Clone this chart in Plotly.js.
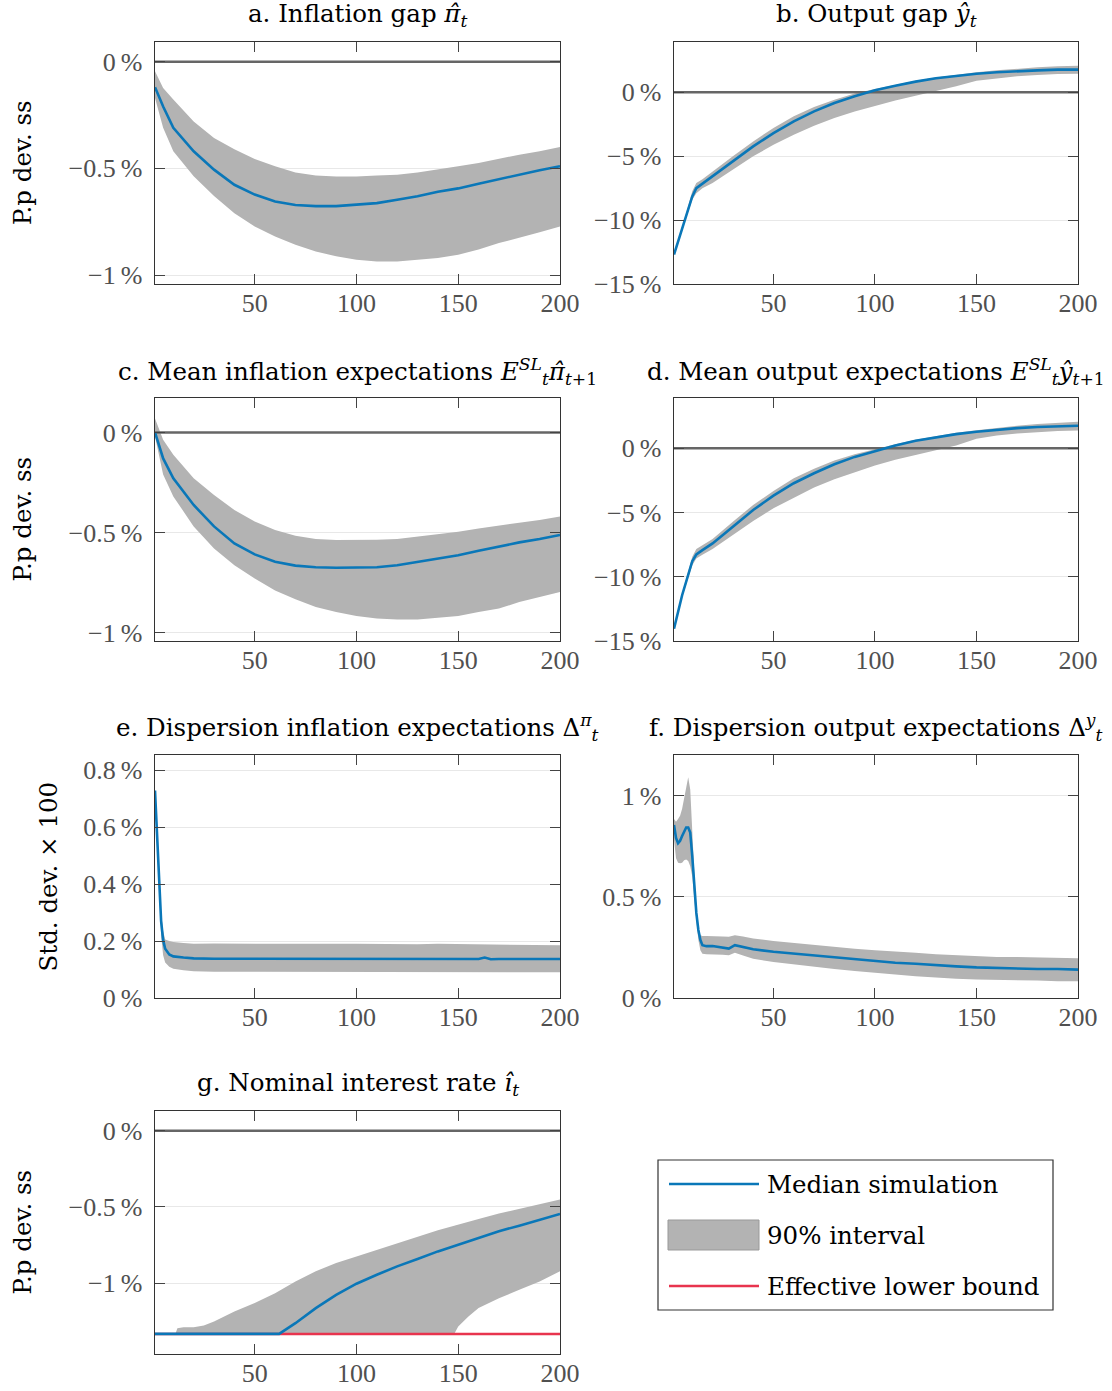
<!DOCTYPE html>
<html>
<head>
<meta charset="utf-8">
<script src="https://cdn.plot.ly/plotly-3.0.1.min.js"></script>
<style>html,body{margin:0;padding:0;background:#fff}#chart{width:1112px;height:1391px}</style>
</head>
<body>
<div id="chart"></div>
<script>
// ---------- DATA ----------
const xEnds = [1, 200];
const zeroLine = [0, 0];
const elbValue = -1.333;
const xTickVals = [50, 100, 150, 200];
const xTickText = ['50', '100', '150', '200'];

// a. Inflation gap
const tA = [1,5,10,20,30,40,50,60,70,80,90,100,110,120,130,140,150,160,170,180,190,200];
const medA = [-0.12,-0.21,-0.31,-0.42,-0.506,-0.577,-0.623,-0.655,-0.672,-0.677,-0.677,-0.67,-0.663,-0.647,-0.631,-0.61,-0.594,-0.572,-0.55,-0.528,-0.509,-0.49];
const hiA = [-0.045,-0.123,-0.178,-0.28,-0.358,-0.41,-0.456,-0.49,-0.519,-0.534,-0.538,-0.538,-0.534,-0.53,-0.519,-0.503,-0.49,-0.475,-0.455,-0.436,-0.42,-0.40];
const loA = [-0.17,-0.31,-0.42,-0.537,-0.63,-0.71,-0.772,-0.82,-0.858,-0.89,-0.912,-0.928,-0.936,-0.936,-0.928,-0.92,-0.905,-0.88,-0.85,-0.826,-0.80,-0.772];

// b. Output gap
const tB = [1,5,10,12,15,20,30,40,50,60,70,80,90,100,110,120,130,140,150,160,170,180,190,200];
const medB = [-12.7,-10.7,-8.15,-7.5,-7.15,-6.58,-5.4,-4.23,-3.19,-2.27,-1.49,-0.84,-0.31,0.16,0.52,0.84,1.1,1.3,1.46,1.57,1.67,1.72,1.78,1.78];
const hiB = [-12.7,-10.6,-7.75,-7.1,-6.8,-6.19,-5.01,-3.84,-2.79,-1.88,-1.15,-0.57,-0.1,0.26,0.6,0.91,1.17,1.38,1.57,1.72,1.85,1.96,2.04,2.09];
const loB = [-12.7,-10.8,-8.4,-7.9,-7.5,-7.1,-6.06,-5.01,-4.1,-3.32,-2.61,-2.01,-1.49,-1.04,-0.63,-0.26,0.08,0.47,0.91,1.1,1.25,1.36,1.44,1.46];

// c. Mean inflation expectations
const tC = [1,5,10,20,30,40,50,60,70,80,90,100,110,120,130,140,150,160,170,180,190,200];
const medC = [0,-0.13,-0.23,-0.363,-0.47,-0.555,-0.61,-0.647,-0.666,-0.674,-0.677,-0.677,-0.674,-0.664,-0.647,-0.63,-0.614,-0.592,-0.57,-0.55,-0.533,-0.513];
const hiC = [0.069,-0.037,-0.112,-0.229,-0.313,-0.388,-0.446,-0.488,-0.517,-0.533,-0.538,-0.538,-0.537,-0.533,-0.522,-0.508,-0.497,-0.48,-0.467,-0.452,-0.438,-0.421];
const loC = [-0.02,-0.21,-0.32,-0.47,-0.58,-0.664,-0.73,-0.79,-0.834,-0.873,-0.898,-0.918,-0.93,-0.935,-0.935,-0.928,-0.918,-0.898,-0.881,-0.848,-0.823,-0.798];

// d. Mean output expectations
const tD = [1,5,10,12,15,20,30,40,50,60,70,80,90,100,110,120,130,140,150,160,170,180,190,200];
const medD = [-14.04,-11.44,-8.79,-8.27,-7.93,-7.41,-6.11,-4.81,-3.69,-2.73,-1.95,-1.25,-0.68,-0.21,0.21,0.57,0.86,1.09,1.27,1.43,1.56,1.64,1.69,1.74];
const hiD = [-14.04,-11.3,-8.45,-7.85,-7.55,-7.07,-5.72,-4.42,-3.33,-2.34,-1.61,-0.96,-0.47,-0.05,0.31,0.65,0.94,1.2,1.4,1.59,1.74,1.87,1.98,2.05];
const loD = [-14.04,-11.6,-9.1,-8.58,-8.3,-7.85,-6.76,-5.67,-4.68,-3.85,-3.07,-2.42,-1.87,-1.35,-0.91,-0.52,-0.13,0.21,0.73,0.99,1.14,1.25,1.33,1.38];

// e. Dispersion inflation expectations
const tE = [1,2,3,4,5,6,8,10,15,20,30,40,50,60,70,80,90,100,110,120,130,140,150,160,163,166,170,180,190,200];
const medE = [0.728,0.58,0.39,0.27,0.203,0.173,0.153,0.146,0.142,0.139,0.138,0.138,0.137,0.137,0.137,0.137,0.137,0.138,0.137,0.137,0.137,0.137,0.137,0.137,0.142,0.136,0.137,0.137,0.137,0.137];
const hiE = [0.73,0.60,0.42,0.30,0.235,0.205,0.20,0.197,0.193,0.19,0.191,0.19,0.189,0.19,0.19,0.189,0.19,0.19,0.189,0.19,0.189,0.19,0.189,0.19,0.19,0.188,0.188,0.187,0.186,0.185];
const loE = [0.72,0.55,0.35,0.22,0.15,0.125,0.11,0.103,0.097,0.094,0.092,0.092,0.091,0.091,0.091,0.091,0.09,0.091,0.091,0.09,0.091,0.091,0.09,0.091,0.09,0.09,0.09,0.091,0.09,0.09];

// f. Dispersion output expectations
const tF = [1,2,3,4,5,6,7,8,9,10,11,12,13,14,15,17,20,25,28,31,35,40,50,60,70,80,90,100,110,120,130,140,150,160,170,180,190,200];
const medF = [0.854,0.79,0.764,0.776,0.8,0.826,0.842,0.842,0.817,0.70,0.55,0.42,0.336,0.286,0.261,0.256,0.257,0.249,0.244,0.261,0.252,0.241,0.228,0.219,0.208,0.198,0.189,0.181,0.174,0.169,0.161,0.156,0.151,0.148,0.146,0.143,0.143,0.14];
const hiF = [0.884,0.87,0.884,0.90,0.934,0.99,1.05,1.09,1.03,0.78,0.62,0.45,0.35,0.31,0.306,0.306,0.306,0.304,0.302,0.31,0.304,0.294,0.282,0.272,0.26,0.252,0.243,0.236,0.228,0.223,0.216,0.211,0.206,0.203,0.203,0.20,0.20,0.196];
const loF = [0.784,0.69,0.668,0.665,0.668,0.68,0.684,0.676,0.651,0.60,0.485,0.369,0.286,0.236,0.219,0.216,0.216,0.213,0.211,0.223,0.21,0.194,0.178,0.166,0.153,0.143,0.133,0.123,0.116,0.108,0.10,0.095,0.091,0.09,0.086,0.086,0.083,0.083];

// g. Nominal interest rate
const tG = [1,62,70,80,90,100,110,120,130,140,150,160,170,180,190,200];
const medG = [-1.333,-1.333,-1.263,-1.164,-1.077,-1.004,-0.945,-0.89,-0.842,-0.792,-0.748,-0.704,-0.66,-0.623,-0.583,-0.546];
const tGband = [11,12,15,20,25,30,40,50,60,70,80,90,100,110,120,130,140,148,150,155,160,170,180,190,200];
const hiG = [-1.333,-1.296,-1.29,-1.29,-1.278,-1.252,-1.186,-1.13,-1.066,-0.989,-0.923,-0.868,-0.825,-0.781,-0.737,-0.693,-0.654,-0.624,-0.616,-0.598,-0.579,-0.544,-0.513,-0.485,-0.452];
const loG = [-1.333,-1.333,-1.333,-1.333,-1.333,-1.333,-1.333,-1.333,-1.333,-1.333,-1.333,-1.333,-1.333,-1.333,-1.333,-1.333,-1.333,-1.333,-1.285,-1.219,-1.164,-1.1,-1.044,-0.989,-0.923];

const titles = [
  'a. Inflation gap <i>π̂</i><sub><i>t</i></sub>',
  'b. Output gap <i>ŷ</i><sub><i>t</i></sub>',
  'c. Mean inflation expectations <i>E</i><sup><i>SL</i></sup><sub><i>t</i></sub><i>π̂</i><sub><i>t</i>+1</sub>',
  'd. Mean output expectations <i>E</i><sup><i>SL</i></sup><sub><i>t</i></sub><i>ŷ</i><sub><i>t</i>+1</sub>',
  'e. Dispersion inflation expectations Δ<sup><i>π</i></sup><sub><i>t</i></sub>',
  'f. Dispersion output expectations Δ<sup><i>y</i></sup><sub><i>t</i></sub>',
  'g. Nominal interest rate <i>î</i><sub><i>t</i></sub>'
];
const legendLabels = ['Median simulation', '90% interval', 'Effective lower bound'];

// ---------- STYLE / LAYOUT ----------
const W = 1112, H = 1391;
const BLUE = '#0a77b8', GRAY = '#b3b3b3', RED = '#e8344e', ZERO = '#666666';
const fx = p => p / W;
const fy = p => 1 - p / H;

const panels = [
  {t: tA, med: medA, hi: hiA, lo: loA, tb: tA, zero: true, box: [155,560,42,284], yr: [-1.042,0.092], yv: [0,-0.5,-1], yt: ['0\u2009%','−0.5\u2009%','−1\u2009%']},
  {t: tB, med: medB, hi: hiB, lo: loB, tb: tB, zero: true, box: [674,1078,42,284], yr: [-15,3.94], yv: [0,-5,-10,-15], yt: ['0\u2009%','−5\u2009%','−10\u2009%','−15\u2009%']},
  {t: tC, med: medC, hi: hiC, lo: loC, tb: tC, zero: true, box: [155,560,398,641], yr: [-1.043,0.172], yv: [0,-0.5,-1], yt: ['0\u2009%','−0.5\u2009%','−1\u2009%']},
  {t: tD, med: medD, hi: hiD, lo: loD, tb: tD, zero: true, box: [674,1078,398,641], yr: [-15,3.9], yv: [0,-5,-10,-15], yt: ['0\u2009%','−5\u2009%','−10\u2009%','−15\u2009%']},
  {t: tE, med: medE, hi: hiE, lo: loE, tb: tE, zero: false, box: [155,560,755,998], yr: [0,0.853], yv: [0,0.2,0.4,0.6,0.8], yt: ['0\u2009%','0.2\u2009%','0.4\u2009%','0.6\u2009%','0.8\u2009%']},
  {t: tF, med: medF, hi: hiF, lo: loF, tb: tF, zero: false, box: [674,1078,755,998], yr: [0,1.2], yv: [0,0.5,1], yt: ['0\u2009%','0.5\u2009%','1\u2009%']},
  {t: tG, med: medG, hi: hiG, lo: loG, tb: tGband, zero: true, elb: true, box: [155,560,1111,1354], yr: [-1.465,0.129], yv: [0,-0.5,-1], yt: ['0\u2009%','−0.5\u2009%','−1\u2009%']}
];

const tickFont = {family: 'Liberation Serif, serif', size: 26, color: '#505050'};
const textFont = {family: 'DejaVu Serif, serif', size: 24.5, color: '#000'};

const traces = [];
const layout = {
  width: W, height: H,
  margin: {l: 0, r: 0, t: 0, b: 0},
  paper_bgcolor: '#fff', plot_bgcolor: '#fff',
  showlegend: false,
  annotations: [], shapes: []
};

panels.forEach((p, i) => {
  const n = i + 1;
  const xa = n === 1 ? 'x' : 'x' + n;
  const ya = n === 1 ? 'y' : 'y' + n;
  const xkey = n === 1 ? 'xaxis' : 'xaxis' + n;
  const ykey = n === 1 ? 'yaxis' : 'yaxis' + n;
  const [l, r, t, b] = p.box;

  traces.push({x: p.tb, y: p.lo, xaxis: xa, yaxis: ya, mode: 'lines', line: {width: 0, color: 'rgba(0,0,0,0)'}, hoverinfo: 'skip'});
  traces.push({x: p.tb, y: p.hi, xaxis: xa, yaxis: ya, mode: 'lines', fill: 'tonexty', fillcolor: GRAY, line: {width: 0, color: 'rgba(0,0,0,0)'}, hoverinfo: 'skip'});
  if (p.zero) traces.push({x: xEnds, y: zeroLine, xaxis: xa, yaxis: ya, mode: 'lines', line: {width: 2.5, color: ZERO}});
  if (p.elb) traces.push({x: xEnds, y: [elbValue, elbValue], xaxis: xa, yaxis: ya, mode: 'lines', line: {width: 2.5, color: RED}});
  traces.push({x: p.t, y: p.med, xaxis: xa, yaxis: ya, mode: 'lines', line: {width: 2.6, color: BLUE}});

  layout[xkey] = {
    domain: [fx(l), fx(r)], anchor: ya, range: xEnds,
    tickmode: 'array', tickvals: xTickVals, ticktext: xTickText,
    ticks: 'inside', ticklen: 10, tickwidth: 1, tickcolor: '#444',
    showline: true, mirror: 'ticks', linecolor: '#333', linewidth: 1.3,
    showgrid: false, zeroline: false, tickfont: tickFont, ticklabelstandoff: -5
  };
  layout[ykey] = {
    domain: [fy(b), fy(t)], anchor: xa, range: p.yr,
    tickmode: 'array', tickvals: p.yv, ticktext: p.yt,
    ticks: 'inside', ticklen: 10, tickwidth: 1, tickcolor: '#444',
    showline: true, mirror: 'ticks', linecolor: '#333', linewidth: 1.3,
    showgrid: true, gridcolor: '#e8e8e8', gridwidth: 1, zeroline: false,
    tickfont: tickFont, ticklabelstandoff: 6
  };

  layout.annotations.push({
    xref: 'paper', yref: 'paper', x: fx((l + r) / 2), y: fy(t - 27),
    xanchor: 'center', yanchor: 'middle', showarrow: false,
    text: titles[i], font: textFont
  });
});

// y-axis titles
[[0, 'P.p dev. ss', 22], [2, 'P.p dev. ss', 22], [4, 'Std. dev. × 100', 48], [6, 'P.p dev. ss', 22]].forEach(([i, txt, xp]) => {
  const [l, r, t, b] = panels[i].box;
  layout.annotations.push({
    xref: 'paper', yref: 'paper', x: fx(xp), y: fy((t + b) / 2),
    xanchor: 'center', yanchor: 'middle', showarrow: false, textangle: -90,
    text: txt, font: textFont
  });
});

// legend box (decoration)
layout.shapes.push({type: 'rect', xref: 'paper', yref: 'paper', x0: fx(658), x1: fx(1053), y0: fy(1310), y1: fy(1160), line: {color: '#333', width: 1.2}, fillcolor: '#fff'});
layout.shapes.push({type: 'line', xref: 'paper', yref: 'paper', x0: fx(669), x1: fx(759), y0: fy(1184), y1: fy(1184), line: {color: BLUE, width: 2.6}});
layout.shapes.push({type: 'rect', xref: 'paper', yref: 'paper', x0: fx(668), x1: fx(759), y0: fy(1250), y1: fy(1220), line: {color: '#999', width: 1}, fillcolor: GRAY});
layout.shapes.push({type: 'line', xref: 'paper', yref: 'paper', x0: fx(669), x1: fx(759), y0: fy(1286), y1: fy(1286), line: {color: RED, width: 2.6}});
[1184, 1235, 1286].forEach((yp, k) => {
  layout.annotations.push({
    xref: 'paper', yref: 'paper', x: fx(765), y: fy(yp),
    xanchor: 'left', yanchor: 'middle', showarrow: false,
    text: legendLabels[k], font: {family: 'DejaVu Serif, serif', size: 24.5, color: '#000'}
  });
});

Plotly.newPlot('chart', traces, layout, {staticPlot: true, displayModeBar: false});
</script>
</body>
</html>
